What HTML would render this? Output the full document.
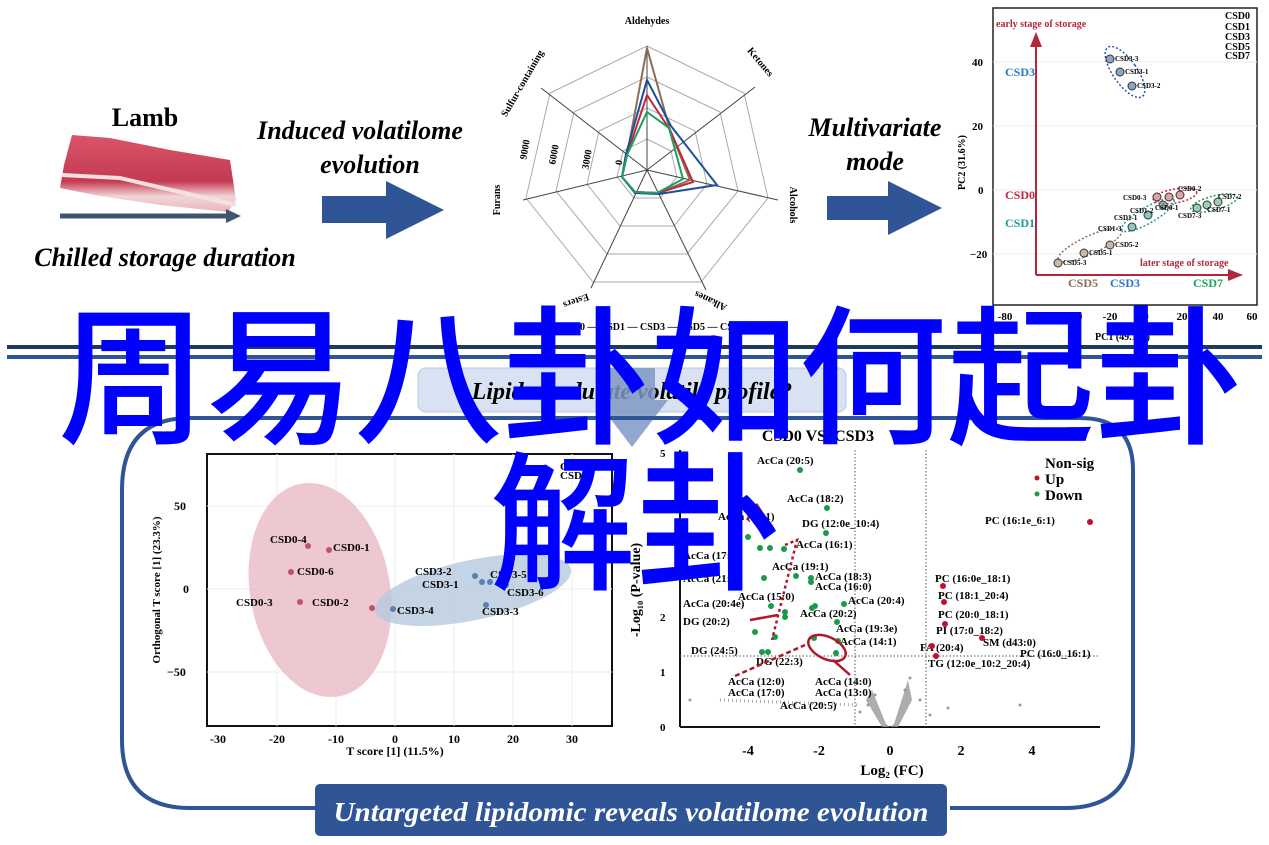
<!DOCTYPE html>
<html><head><meta charset="utf-8"><style>
html,body{margin:0;padding:0;background:#fff;}
svg{display:block;}
text{font-family:"Liberation Serif",serif;}
.b{font-weight:bold;}
.cjk{font-family:"Liberation Sans","Noto Sans CJK SC",sans-serif;font-weight:500;fill:#0000ff;}
</style></head><body>
<svg width="1269" height="845" viewBox="0 0 1269 845" xmlns="http://www.w3.org/2000/svg">
<defs>
<linearGradient id="meat" x1="0" y1="0" x2="0" y2="1">
<stop offset="0" stop-color="#d9556a"/><stop offset="0.6" stop-color="#c43a52"/><stop offset="0.8" stop-color="#f2d6d8"/><stop offset="1" stop-color="#e9b5bb"/></linearGradient>
</defs>
<!-- Lamb -->
<text x="145" y="126" font-size="26" class="b" text-anchor="middle">Lamb</text>
<path d="M72 135 L110 138 L170 150 L230 160 L236 200 L228 212 L160 205 L100 196 L60 188 L64 165 Z" fill="url(#meat)"/>
<path d="M62 175 L120 178 L180 192 L236 205" stroke="#f5e0e0" stroke-width="4" fill="none"/>
<line x1="60" y1="216" x2="228" y2="216" stroke="#3f5670" stroke-width="5"/>
<polygon points="226,209 241,216 226,223" fill="#3f5670"/>
<text x="165" y="266" font-size="26" class="b" font-style="italic" text-anchor="middle">Chilled storage duration</text>
<text x="360" y="139" font-size="26" class="b" font-style="italic" text-anchor="middle">Induced volatilome</text>
<text x="370" y="173" font-size="26" class="b" font-style="italic" text-anchor="middle">evolution</text>
<polygon points="322,196 386,196 386,181 444,210 386,239 386,223 322,223" fill="#2f5597"/>
<text x="875" y="136" font-size="26" class="b" font-style="italic" text-anchor="middle">Multivariate</text>
<text x="875" y="170" font-size="26" class="b" font-style="italic" text-anchor="middle">mode</text>
<polygon points="827,196 888,196 888,181 942,208 888,235 888,220 827,220" fill="#2f5597"/>

<!-- Radar -->
<g transform="translate(647,170)" fill="none">
<g stroke="#aaa" stroke-width="1">
<polygon points="0,-31 24,-19 30,7 13,28 -13,28 -30,7 -24,-19"/>
<polygon points="0,-62 48,-39 60,14 27,56 -27,56 -60,14 -48,-39"/>
<polygon points="0,-93 73,-58 91,21 40,84 -40,84 -91,21 -73,-58"/>
<polygon points="0,-124 97,-77 121,28 54,112 -54,112 -121,28 -97,-77"/>
</g>
<g stroke="#444" stroke-width="1">
<line x1="0" y1="0" x2="0" y2="-124"/><line x1="0" y1="0" x2="108" y2="-83"/><line x1="0" y1="0" x2="131" y2="30"/><line x1="0" y1="0" x2="59" y2="120"/><line x1="0" y1="0" x2="-56" y2="118"/><line x1="0" y1="0" x2="-124" y2="30"/><line x1="0" y1="0" x2="-106" y2="-82"/>
</g>
<polygon points="0,-122 23,-40 43,10 11,23 -12,22 -25,7 -20,-15" stroke="#8c6d52" stroke-width="2"/>
<polygon points="0,-75 23,-40 46,12 11,23 -12,22 -25,7 -20,-15" stroke="#c0283c" stroke-width="2"/>
<polygon points="0,-90 24,-44 70,15 12,24 -12,23 -25,7 -21,-16" stroke="#1f4e9a" stroke-width="2"/>
<polygon points="0,-58 22,-42 36,9 10,23 -12,22 -25,7 -20,-15" stroke="#1aa060" stroke-width="2"/>
</g>
<g font-size="10" class="b">
<text x="647" y="24" text-anchor="middle">Aldehydes</text>
<text transform="translate(758,64) rotate(50)" text-anchor="middle">Ketones</text>
<text transform="translate(790,205) rotate(90)" text-anchor="middle">Alcohols</text>
<text transform="translate(712,298) rotate(-155)" text-anchor="middle">Alkanes</text>
<text transform="translate(575,298) rotate(160)" text-anchor="middle">Esters</text>
<text transform="translate(500,200) rotate(-90)" text-anchor="middle">Furans</text>
<text transform="translate(525,85) rotate(-60)" text-anchor="middle">Sulfur-containing</text>
<text transform="translate(528,150) rotate(-80)" text-anchor="middle">9000</text>
<text transform="translate(557,155) rotate(-80)" text-anchor="middle">6000</text>
<text transform="translate(590,160) rotate(-80)" text-anchor="middle">3000</text>
<text transform="translate(622,163) rotate(-80)" text-anchor="middle">0</text>
<text x="560" y="330">CSD0 — CSD1 — CSD3 — CSD5 — CSD7</text>
</g>

<!-- PCA -->
<rect x="993" y="8" width="264" height="297" fill="#fff" stroke="#222" stroke-width="1.5"/>
<g stroke="#eee"><line x1="993" y1="62" x2="1257" y2="62"/><line x1="993" y1="126" x2="1257" y2="126"/><line x1="993" y1="190" x2="1257" y2="190"/><line x1="993" y1="254" x2="1257" y2="254"/></g>
<line x1="1036" y1="275" x2="1036" y2="45" stroke="#b0283c" stroke-width="2"/>
<polygon points="1030,47 1036,32 1042,47" fill="#b0283c"/>
<line x1="1036" y1="275" x2="1232" y2="275" stroke="#b0283c" stroke-width="2"/>
<polygon points="1228,269 1243,275 1228,281" fill="#b0283c"/>
<g font-size="10" class="b">
<text x="996" y="27" fill="#b0283c">early stage of storage</text>
<text x="1140" y="266" fill="#b0283c">later stage of storage</text>
<text x="1005" y="76" fill="#2a77c8" font-size="12">CSD3</text>
<text x="1005" y="199" fill="#c0283c" font-size="12">CSD0</text>
<text x="1005" y="227" fill="#1a9a9a" font-size="12">CSD1</text>
<text x="1068" y="287" fill="#8c6d52" font-size="12">CSD5</text>
<text x="1110" y="287" fill="#2a77c8" font-size="12">CSD3</text>
<text x="1193" y="287" fill="#1aa060" font-size="12">CSD7</text>
<text x="1225" y="19">CSD0</text><text x="1225" y="30">CSD1</text><text x="1225" y="40">CSD3</text><text x="1225" y="50">CSD5</text><text x="1225" y="59">CSD7</text>
<text x="972" y="66" font-size="11">40</text><text x="972" y="130" font-size="11">20</text><text x="978" y="194" font-size="11">0</text><text x="970" y="258" font-size="11">−20</text>
<g font-size="11" text-anchor="middle"><text x="1005" y="320">-80</text><text x="1040" y="320">-60</text><text x="1075" y="320">-40</text><text x="1110" y="320">-20</text><text x="1146" y="320">0</text><text x="1182" y="320">20</text><text x="1218" y="320">40</text><text x="1252" y="320">60</text></g>
<text x="1095" y="340" font-size="10">PC1 (49.1%)</text>
<text transform="translate(965,190) rotate(-90)" font-size="10">PC2 (31.6%)</text>
</g>
<g font-size="7" class="b">
<ellipse cx="1125" cy="72" rx="12" ry="30" transform="rotate(-35 1125 72)" fill="none" stroke="#2a55b0" stroke-dasharray="2,2" stroke-width="1.5"/>
<circle cx="1110" cy="59" r="4" fill="#8aa6c8" stroke="#333"/><text x="1115" y="61">CSD3-3</text>
<circle cx="1120" cy="72" r="4" fill="#8aa6c8" stroke="#333"/><text x="1125" y="74">CSD3-1</text>
<circle cx="1132" cy="86" r="4" fill="#8aa6c8" stroke="#333"/><text x="1137" y="88">CSD3-2</text>
<ellipse cx="1090" cy="245" rx="35" ry="9" transform="rotate(-25 1090 245)" fill="none" stroke="#8c6d52" stroke-dasharray="2,2" stroke-width="1.5"/>
<circle cx="1058" cy="263" r="4" fill="#c8b8a8" stroke="#333"/><text x="1063" y="265">CSD5-3</text>
<circle cx="1084" cy="253" r="4" fill="#c8b8a8" stroke="#333"/><text x="1089" y="255">CSD5-1</text>
<circle cx="1110" cy="245" r="4" fill="#c8b8a8" stroke="#333"/><text x="1115" y="247">CSD5-2</text>
<ellipse cx="1148" cy="215" rx="30" ry="8" transform="rotate(-30 1148 215)" fill="none" stroke="#1a9a9a" stroke-dasharray="2,2" stroke-width="1.5"/>
<circle cx="1132" cy="227" r="4" fill="#8ac8c0" stroke="#333"/><text x="1098" y="231">CSD1-3</text>
<circle cx="1148" cy="215" r="4" fill="#8ac8c0" stroke="#333"/><text x="1114" y="220">CSD1-1</text>
<circle cx="1163" cy="205" r="4" fill="#8ac8c0" stroke="#333"/><text x="1130" y="213">CSD1-2</text>
<ellipse cx="1175" cy="196" rx="22" ry="7" transform="rotate(-10 1175 196)" fill="none" stroke="#c0283c" stroke-dasharray="2,2" stroke-width="1.5"/>
<circle cx="1157" cy="197" r="4" fill="#e4a0a8" stroke="#333"/><text x="1123" y="200">CSD0-3</text>
<circle cx="1169" cy="197" r="4" fill="#e4a0a8" stroke="#333"/><text x="1155" y="210">CSD0-1</text>
<circle cx="1180" cy="195" r="4" fill="#e4a0a8" stroke="#333"/><text x="1178" y="191">CSD0-2</text>
<ellipse cx="1214" cy="203" rx="24" ry="7" transform="rotate(-15 1214 203)" fill="none" stroke="#1aa060" stroke-dasharray="2,2" stroke-width="1.5"/>
<circle cx="1197" cy="208" r="4" fill="#9ad0b0" stroke="#333"/><text x="1178" y="218">CSD7-3</text>
<circle cx="1207" cy="205" r="4" fill="#9ad0b0" stroke="#333"/><text x="1207" y="212">CSD7-1</text>
<circle cx="1218" cy="202" r="4" fill="#9ad0b0" stroke="#333"/><text x="1218" y="199">CSD7-2</text>
</g>

<!-- separator lines -->
<line x1="7" y1="347" x2="1262" y2="347" stroke="#1f3a5f" stroke-width="4"/>
<line x1="7" y1="357" x2="1262" y2="357" stroke="#2f5597" stroke-width="4"/>
<!-- question box -->
<rect x="418" y="368" width="428" height="44" rx="8" fill="#d9e2f3" stroke="#b4c6e7"/>
<text x="632" y="399" font-size="24" class="b" font-style="italic" text-anchor="middle">Lipids modulate volatile profile?</text>
<polygon points="610,368 655,368 655,400 668,400 632,447 596,400 610,400" fill="#7f98c4" opacity="0.85"/>

<!-- frame -->
<path d="M190 418 L1080 418 Q1133 418 1133 470 L1133 740 Q1133 808 1065 808 L950 808 M315 808 L190 808 Q122 808 122 740 L122 490 Q122 418 190 418" fill="none" stroke="#2f5597" stroke-width="4"/>
<rect x="315" y="784" width="632" height="52" rx="5" fill="#2f5597"/>
<text x="631" y="821" font-size="27" class="b" font-style="italic" fill="#fff" text-anchor="middle" textLength="595" lengthAdjust="spacingAndGlyphs">Untargeted lipidomic reveals volatilome evolution</text>

<!-- PLS plot -->
<rect x="207" y="454" width="405" height="272" fill="#fff" stroke="#111" stroke-width="2"/>
<g stroke="#eee"><line x1="207" y1="506" x2="612" y2="506"/><line x1="207" y1="589" x2="612" y2="589"/><line x1="207" y1="672" x2="612" y2="672"/>
<line x1="277" y1="454" x2="277" y2="726"/><line x1="336" y1="454" x2="336" y2="726"/><line x1="395" y1="454" x2="395" y2="726"/><line x1="454" y1="454" x2="454" y2="726"/><line x1="513" y1="454" x2="513" y2="726"/><line x1="572" y1="454" x2="572" y2="726"/></g>
<ellipse cx="320" cy="590" rx="70" ry="108" transform="rotate(-10 320 590)" fill="#e7b6c0" opacity="0.75"/>
<ellipse cx="473" cy="590" rx="100" ry="30" transform="rotate(-12 473 590)" fill="#b7c9dd" opacity="0.8"/>
<g font-size="11" class="b">
<text x="270" y="543">CSD0-4</text><circle cx="308" cy="546" r="3" fill="#c05070"/>
<circle cx="329" cy="550" r="3" fill="#c05070"/><text x="333" y="551">CSD0-1</text>
<circle cx="291" cy="572" r="3" fill="#c05070"/><text x="297" y="575">CSD0-6</text>
<text x="236" y="606">CSD0-3</text><circle cx="300" cy="602" r="3" fill="#c05070"/>
<text x="312" y="606">CSD0-2</text><circle cx="372" cy="608" r="3" fill="#c05070"/>
<circle cx="393" cy="609" r="3" fill="#5a80b0"/><text x="397" y="614">CSD3-4</text>
<text x="415" y="575">CSD3-2</text><circle cx="475" cy="576" r="3" fill="#5a80b0"/>
<text x="422" y="588">CSD3-1</text><circle cx="482" cy="582" r="3" fill="#5a80b0"/><circle cx="490" cy="582" r="3" fill="#5a80b0"/>
<text x="490" y="578">CSD3-5</text>
<circle cx="506" cy="585" r="3" fill="#5a80b0"/><text x="507" y="596">CSD3-6</text>
<circle cx="486" cy="605" r="3" fill="#5a80b0"/><text x="482" y="615">CSD3-3</text>
<text x="174" y="510" font-size="12">50</text><text x="183" y="593" font-size="12">0</text><text x="167" y="676" font-size="12">−50</text>
<g font-size="12" text-anchor="middle"><text x="218" y="743">-30</text><text x="277" y="743">-20</text><text x="336" y="743">-10</text><text x="395" y="743">0</text><text x="454" y="743">10</text><text x="513" y="743">20</text><text x="572" y="743">30</text></g>
<text x="395" y="755" font-size="12" text-anchor="middle">T score [1] (11.5%)</text>
<text transform="translate(160,590) rotate(-90)" font-size="11" text-anchor="middle">Orthogonal T score [1] (23.3%)</text>
<text x="560" y="470">CSD0</text><text x="560" y="479">CSD3</text>
</g>

<!-- Volcano -->
<g stroke="#111" stroke-width="2"><line x1="680" y1="450" x2="680" y2="727"/><line x1="680" y1="727" x2="1100" y2="727"/></g>
<g stroke="#555" stroke-dasharray="1.5,2"><line x1="855" y1="450" x2="855" y2="727"/><line x1="926" y1="450" x2="926" y2="727"/><line x1="680" y1="656" x2="1100" y2="656"/></g>
<g fill="#999">
<path d="M872 690 L886 724 L890 727 L894 724 L908 680 L912 700 L898 727 L882 727 L866 700 Z" opacity="0.8"/>
<circle cx="868" cy="705" r="1.5"/><circle cx="875" cy="695" r="1.5"/><circle cx="905" cy="690" r="1.5"/><circle cx="910" cy="678" r="1.5"/><circle cx="860" cy="712" r="1.5"/><circle cx="920" cy="700" r="1.5"/><circle cx="930" cy="715" r="1.5"/><circle cx="948" cy="708" r="1.5"/><circle cx="1020" cy="705" r="1.5"/><circle cx="690" cy="700" r="1.5"/>
</g>
<path d="M720 700 L860 705" stroke="#aaa" stroke-width="3" stroke-dasharray="1,3"/>
<g font-size="11" class="b">
<text x="818" y="441" font-size="16" text-anchor="middle">CSD0 VS. CSD3</text>
<text x="660" y="457">5</text><text x="660" y="512">4</text><text x="660" y="621">2</text><text x="660" y="676">1</text><text x="660" y="731">0</text>
<g font-size="14" text-anchor="middle"><text x="748" y="755">-4</text><text x="819" y="755">-2</text><text x="890" y="755">0</text><text x="961" y="755">2</text><text x="1032" y="755">4</text></g>
<text x="892" y="775" font-size="15" text-anchor="middle">Log₂ (FC)</text>
<text transform="translate(640,590) rotate(-90)" font-size="14" text-anchor="middle">-Log₁₀ (P-value)</text>
<text x="1045" y="468" font-size="15">Non-sig</text><text x="1045" y="484" font-size="15">Up</text><text x="1045" y="500" font-size="15">Down</text>
<circle cx="1037" cy="478" r="2.5" fill="#c0102a"/><circle cx="1037" cy="494" r="2.5" fill="#1a9a4a"/>
<text x="757" y="464">AcCa (20:5)</text><circle cx="800" cy="470" r="3" fill="#1a9a4a"/>
<text x="787" y="502">AcCa (18:2)</text><circle cx="827" cy="508" r="3" fill="#1a9a4a"/>
<text x="718" y="520">AcCa (18:1)</text>
<text x="802" y="527">DG (12:0e_10:4)</text><circle cx="826" cy="533" r="3" fill="#1a9a4a"/>
<text x="796" y="548">AcCa (16:1)</text>
<text x="683" y="559">AcCa (17:1)</text>
<text x="772" y="570">AcCa (19:1)</text>
<text x="683" y="582">AcCa (21:5)</text><circle cx="764" cy="578" r="3" fill="#1a9a4a"/>
<text x="815" y="580">AcCa (18:3)</text><text x="815" y="590">AcCa (16:0)</text>
<text x="738" y="600">AcCa (15:0)</text>
<text x="683" y="607">AcCa (20:4e)</text><circle cx="771" cy="606" r="3" fill="#1a9a4a"/>
<text x="848" y="604">AcCa (20:4)</text><circle cx="844" cy="604" r="3" fill="#1a9a4a"/>
<text x="800" y="617">AcCa (20:2)</text><circle cx="785" cy="617" r="3" fill="#1a9a4a"/>
<text x="683" y="625">DG (20:2)</text>
<text x="836" y="632">AcCa (19:3e)</text><circle cx="837" cy="622" r="3" fill="#1a9a4a"/>
<text x="840" y="645">AcCa (14:1)</text><circle cx="838" cy="641" r="3" fill="#1a9a4a"/>
<text x="691" y="654">DG (24:5)</text><circle cx="762" cy="652" r="3" fill="#1a9a4a"/><circle cx="768" cy="652" r="3" fill="#1a9a4a"/>
<text x="756" y="665">DG (22:3)</text>
<text x="728" y="685">AcCa (12:0)</text><text x="815" y="685">AcCa (14:0)</text>
<text x="728" y="696">AcCa (17:0)</text><text x="815" y="696">AcCa (13:0)</text>
<text x="780" y="709">AcCa (20:5)</text>
<text x="985" y="524">PC (16:1e_6:1)</text><circle cx="1090" cy="522" r="3" fill="#c0102a"/>
<text x="935" y="582">PC (16:0e_18:1)</text><circle cx="943" cy="586" r="3" fill="#c0102a"/>
<text x="938" y="599">PC (18:1_20:4)</text><circle cx="944" cy="602" r="3" fill="#c0102a"/>
<text x="938" y="618">PC (20:0_18:1)</text>
<text x="936" y="634">PI (17:0_18:2)</text><circle cx="945" cy="624" r="3" fill="#c0102a"/>
<text x="920" y="651">FA (20:4)</text><circle cx="932" cy="646" r="3" fill="#c0102a"/>
<text x="983" y="646">SM (d43:0)</text><circle cx="982" cy="638" r="3" fill="#c0102a"/>
<text x="1020" y="657">PC (16:0_16:1)</text>
<text x="928" y="667">TG (12:0e_10:2_20:4)</text><circle cx="936" cy="656" r="3" fill="#c0102a"/>
<circle cx="748" cy="537" r="3" fill="#1a9a4a"/><circle cx="760" cy="548" r="3" fill="#1a9a4a"/><circle cx="770" cy="548" r="3" fill="#1a9a4a"/><circle cx="784" cy="549" r="3" fill="#1a9a4a"/><circle cx="796" cy="576" r="3" fill="#1a9a4a"/><circle cx="811" cy="578" r="3" fill="#1a9a4a"/><circle cx="811" cy="582" r="3" fill="#1a9a4a"/><circle cx="785" cy="612" r="3" fill="#1a9a4a"/><circle cx="812" cy="608" r="3" fill="#1a9a4a"/><circle cx="815" cy="606" r="3" fill="#1a9a4a"/><circle cx="755" cy="632" r="3" fill="#1a9a4a"/><circle cx="775" cy="637" r="3" fill="#1a9a4a"/><circle cx="836" cy="653" r="3" fill="#1a9a4a"/><circle cx="814" cy="638" r="3" fill="#1a9a4a"/>
</g>
<g stroke="#b0182a" stroke-width="2.5" fill="none">
<path d="M747 520 L757 505 L770 525"/>
<path d="M785 545 L797 540 L772 640" stroke-dasharray="3,3"/>
<path d="M750 620 L778 615"/>
<ellipse cx="827" cy="648" rx="20" ry="11" transform="rotate(25 827 648)"/>
<path d="M735 676 L805 645" stroke-dasharray="5,3"/>
<path d="M833 660 L850 675"/>
</g>

<!-- Chinese overlay -->
<text class="cjk" x="58" y="432" font-size="150" textLength="1185" lengthAdjust="spacingAndGlyphs">周易八卦如何起卦</text>
<text class="cjk" x="490" y="578" font-size="150" textLength="292" lengthAdjust="spacingAndGlyphs">解卦</text>
</svg>
</body></html>
